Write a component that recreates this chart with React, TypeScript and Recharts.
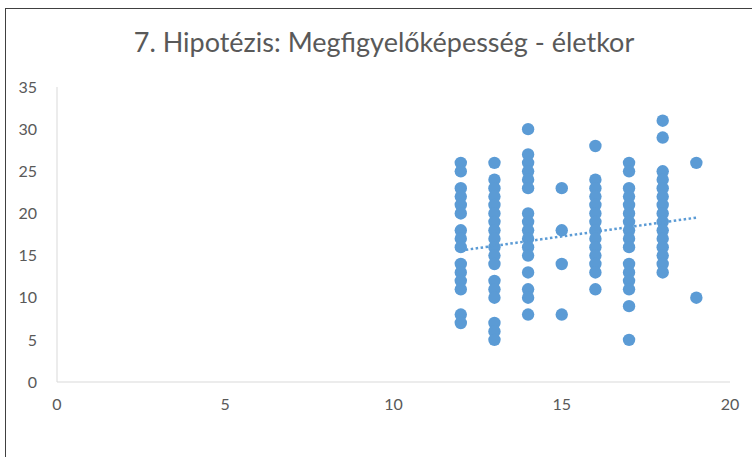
import { ScatterChart, Scatter, XAxis, YAxis } from "recharts";

// scores, one list per age
const ages = [12, 13, 14, 15, 16, 17, 18, 19];
const scoresByAge = [
  [26, 25, 23, 22, 21, 20, 18, 17, 16, 14, 13, 12, 11, 8, 7],
  [26, 24, 23, 22, 21, 20, 19, 18, 17, 16, 15, 14, 12, 11, 10, 7, 6, 5],
  [30, 27, 26, 25, 24, 23, 20, 19, 18, 17, 16, 15, 13, 11, 10, 8],
  [23, 18, 14, 8],
  [28, 24, 23, 22, 21, 20, 19, 18, 17, 16, 15, 14, 13, 11],
  [26, 25, 23, 22, 21, 20, 19, 18, 17, 16, 14, 13, 12, 11, 9, 5],
  [31, 29, 25, 24, 23, 22, 21, 20, 19, 18, 17, 16, 15, 14, 13],
  [26, 10],
];

// linear trendline endpoints
const trendAges = [12, 19];
const trendScores = [15.6, 19.5];

const xTicks = [0, 5, 10, 15, 20];
const yTicks = [0, 5, 10, 15, 20, 25, 30, 35];

const points = ages.flatMap((age, i) => scoresByAge[i].map((s) => ({ x: age, y: s })));
const trend = trendAges.map((x, i) => ({ x, y: trendScores[i] }));

const BLUE = "#5B9BD5";
const FONT = "Lato, 'Open Sans', sans-serif";

const Dot = (p: any) => <circle cx={p.cx} cy={p.cy} r={6.2} fill={BLUE} />;

const App = () => {
  return (
    <div style={{ position: "absolute", left: 0, top: 0, width: 752, height: 457, overflow: "hidden", background: "#fff" }}>
      <div
        style={{
          position: "absolute",
          left: 5,
          top: 8,
          width: 800,
          height: 500,
          borderLeft: "1px solid #404040",
          borderTop: "1px solid #404040",
        }}
      />
      <div
        style={{
          position: "absolute",
          left: 0,
          top: 25,
          width: 768,
          textAlign: "center",
          fontFamily: FONT,
          fontSize: 27,
          color: "#595959",
        }}
      >
        7. Hipotézis: Megfigyelőképesség - életkor
      </div>
      <div style={{ position: "absolute", left: 0, top: 0 }}>
        <ScatterChart width={752} height={457} margin={{ top: 87, right: 22, bottom: 45, left: 17 }}>
          <XAxis
            type="number"
            dataKey="x"
            domain={[0, 20]}
            ticks={xTicks}
            tickLine={false}
            axisLine={{ stroke: "#d9d9d9" }}
            tick={{ fill: "#595959", fontSize: 16, fontFamily: FONT }}
            tickMargin={11}
            height={30}
          />
          <YAxis
            type="number"
            dataKey="y"
            domain={[0, 35]}
            ticks={yTicks}
            tickLine={false}
            axisLine={{ stroke: "#d9d9d9" }}
            tick={{ fill: "#595959", fontSize: 16, fontFamily: FONT }}
            tickMargin={14}
            width={40}
          />
          <Scatter data={points} fill={BLUE} shape={Dot} isAnimationActive={false} />
          <Scatter
            data={trend}
            line={{ stroke: BLUE, strokeWidth: 2.5, strokeDasharray: "2.5 2.5" }}
            shape={() => <g />}
            isAnimationActive={false}
          />
        </ScatterChart>
      </div>
    </div>
  );
};

export default App;
